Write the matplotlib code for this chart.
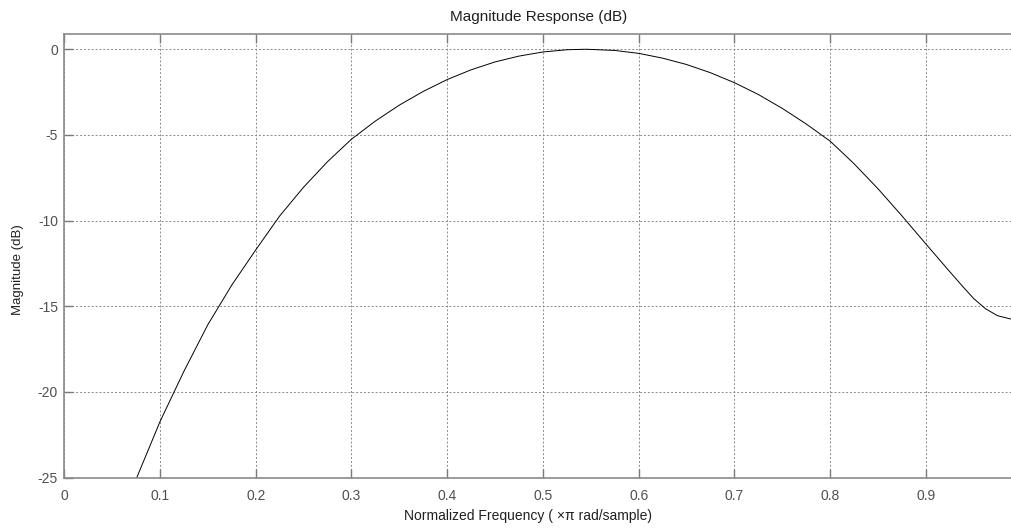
import matplotlib
matplotlib.use("Agg")
import matplotlib.pyplot as plt

# values (normalized frequency, dB)
freq = [0.0757, 0.100, 0.125, 0.150, 0.175, 0.200, 0.225, 0.250, 0.275,
        0.300, 0.325, 0.350, 0.375, 0.400, 0.425, 0.450, 0.475, 0.500,
        0.525, 0.545, 0.575, 0.600, 0.625, 0.650, 0.675, 0.700, 0.725,
        0.750, 0.775, 0.800, 0.825, 0.850, 0.875, 0.900, 0.925, 0.9375,
        0.950, 0.9625, 0.975, 0.990]
mag_db = [-25.0, -21.73, -18.79, -16.07, -13.76, -11.71, -9.73, -8.05, -6.56,
          -5.25, -4.19, -3.26, -2.46, -1.77, -1.20, -0.74, -0.40, -0.16,
          -0.03, 0.0, -0.07, -0.24, -0.52, -0.89, -1.37, -1.95, -2.64,
          -3.45, -4.36, -5.36, -6.68, -8.14, -9.72, -11.36, -12.98, -13.78,
          -14.55, -15.15, -15.55, -15.76]

xticks = [0, 0.1, 0.2, 0.3, 0.4, 0.5, 0.6, 0.7, 0.8, 0.9]
xticklabels = ["0", "0.1", "0.2", "0.3", "0.4", "0.5", "0.6", "0.7", "0.8", "0.9"]
yticks = [0, -5, -10, -15, -20, -25]
yticklabels = ["0", "-5", "-10", "-15", "-20", "-25"]

plt.rcParams['font.family'] = ['Liberation Sans', 'DejaVu Sans']

fig = plt.figure(figsize=(10.12, 5.31), dpi=100)
ax = fig.add_axes([0.0635, 0.1004, 0.9365, 0.8356])

ax.plot(freq, mag_db, color='black', linewidth=0.7)

ax.set_xlim(0, 0.99)
ax.set_ylim(-25, 0.89)
ax.set_xticks(xticks)
ax.set_xticklabels(xticklabels)
ax.set_yticks(yticks)
ax.set_yticklabels(yticklabels)

ax.grid(True, linestyle=(0, (2, 2)), color='#8a8a8a', linewidth=0.7)
ax.tick_params(direction='in', length=6.5, colors='#7a7a7a', labelcolor='#505050',
               labelsize=10, top=True, right=False, width=1)
ax.tick_params(axis='x', pad=8)
ax.tick_params(axis='y', pad=4.5)
for side in ['left', 'bottom', 'top']:
    ax.spines[side].set_color('#8a8a8a')
    ax.spines[side].set_linewidth(1.2)
ax.spines['right'].set_visible(False)

ax.set_title('Magnitude Response (dB)', fontsize=11, color='#202020', pad=9)
ax.set_xlabel('Normalized Frequency ( \u00d7\u03c0 rad/sample)', fontsize=10,
              color='#202020')
ax.set_ylabel('Magnitude (dB)', fontsize=9.5, color='#202020')
ax.xaxis.set_label_coords(0.489, -0.071)
ax.yaxis.set_label_coords(-0.043, 0.47)

fig.savefig('out.png', dpi=100)
